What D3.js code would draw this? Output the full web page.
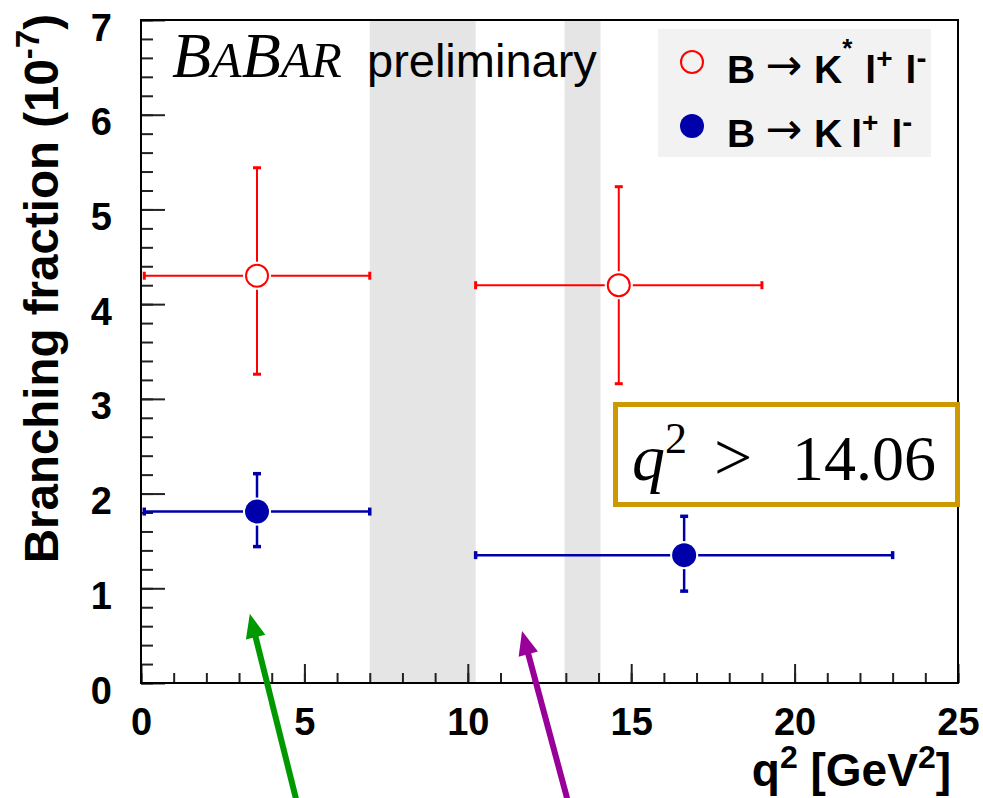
<!DOCTYPE html>
<html>
<head>
<meta charset="utf-8">
<script src="https://cdn.jsdelivr.net/npm/d3@7"></script>
<style>
  body { margin: 0; background: #fff; }
  svg { display: block; }
</style>
</head>
<body>
<script>
'use strict';

// q^2 bins and measured branching fractions (units of 1e-7)
const kstarX   = [3.55, 14.62];
const kstarXlo = [0.1, 10.24];
const kstarXhi = [7.0, 19.0];
const kstarY   = [4.30, 4.20];
const kstarYlo = [3.26, 3.16];
const kstarYhi = [5.44, 5.24];

const kX   = [3.55, 16.62];
const kXlo = [0.1, 10.24];
const kXhi = [7.0, 23.0];
const kY   = [1.81, 1.35];
const kYlo = [1.44, 0.97];
const kYhi = [2.21, 1.76];

// charmonium veto regions
const vetoBands = [[7.0, 10.24], [12.96, 14.06]];

const xTicks = [0, 5, 10, 15, 20, 25];
const yTicks = [0, 1, 2, 3, 4, 5, 6, 7];

// annotation arrows: [tail, tip] in data units
const arrows = [
    {from: [4.74, -1.22], to: [3.33, 0.73], color: '#009900'},
    {from: [13.04, -1.22], to: [11.66, 0.55], color: '#990099'}
];

const W = 983, H = 798;
const margin = {top: 20, right: 25, bottom: 115, left: 141};
const iw = W - margin.left - margin.right;
const ih = H - margin.top - margin.bottom;

const sans = "'Liberation Sans', Arial, Helvetica, sans-serif";
const serif = "'Liberation Serif', 'Times New Roman', serif";

const svg = d3.select('body').append('svg')
    .attr('width', W)
    .attr('height', H);

const x = d3.scaleLinear().domain([0, 25]).range([0, iw]);
const y = d3.scaleLinear().domain([0, 7]).range([ih, 0]);

const g = svg.append('g')
    .attr('transform', `translate(${margin.left},${margin.top})`);

// veto bands
g.selectAll('rect.veto')
    .data(vetoBands)
    .enter().append('rect')
        .attr('class', 'veto')
        .attr('x', d => x(d[0]))
        .attr('width', d => x(d[1]) - x(d[0]))
        .attr('y', 0)
        .attr('height', ih)
        .style('fill', '#e5e5e5');

// minor ticks
const xMinor = g.append('g')
    .attr('transform', `translate(0,${ih})`)
    .call(d3.axisBottom(x).tickValues(d3.range(0, 26, 1)).tickSize(-10).tickFormat(''));
const yMinor = g.append('g')
    .call(d3.axisLeft(y).tickValues(d3.range(0, 7.01, 0.2)).tickSize(-12).tickFormat(''));

// major ticks + labels
const xAxis = g.append('g')
    .attr('transform', `translate(0,${ih})`)
    .call(d3.axisBottom(x).tickValues(xTicks).tickSize(-19).tickFormat(d3.format('d')));
const yAxis = g.append('g')
    .call(d3.axisLeft(y).tickValues(yTicks).tickSize(-24).tickPadding(29).tickFormat(d3.format('d')));

[xMinor, yMinor, xAxis, yAxis].forEach(a => {
    a.select('.domain').remove();
    a.selectAll('line').style('stroke', '#222').style('stroke-width', 2);
});
xAxis.selectAll('text')
    .attr('y', 52).attr('dy', 0)
    .style('font-family', sans).style('font-weight', 'bold').style('font-size', '38px').style('fill', '#000');
yAxis.selectAll('text')
    .attr('dy', 20)
    .style('font-family', sans).style('font-weight', 'bold').style('font-size', '38px').style('fill', '#000');

// frame
g.append('rect')
    .attr('width', iw).attr('height', ih)
    .style('fill', 'none').style('stroke', '#000').style('stroke-width', 2);

// error bars + markers
function drawSeries(xs, xlo, xhi, ys, ylo, yhi, color, filled, width) {
    const data = xs.map((v, i) => ({x: v, xlo: xlo[i], xhi: xhi[i], y: ys[i], ylo: ylo[i], yhi: yhi[i]}));
    const gap = 14, cap = 4;
    const s = g.append('g');
    const pts = s.selectAll('g').data(data).enter().append('g');
    const seg = (sel, f) => sel.append('line')
        .each(function(d) { const c = f(d); d3.select(this).attr('x1', c[0]).attr('y1', c[1]).attr('x2', c[2]).attr('y2', c[3]); })
        .style('stroke', color).style('stroke-width', width);
    seg(pts, d => [x(d.xlo), y(d.y), x(d.x) - gap, y(d.y)]);
    seg(pts, d => [x(d.x) + gap, y(d.y), x(d.xhi), y(d.y)]);
    seg(pts, d => [x(d.x), y(d.yhi), x(d.x), y(d.y) - gap]);
    seg(pts, d => [x(d.x), y(d.y) + gap, x(d.x), y(d.ylo)]);
    // caps
    const capW = width + 1;
    seg(pts, d => [x(d.xlo), y(d.y) - cap, x(d.xlo), y(d.y) + cap]).style('stroke-width', capW);
    seg(pts, d => [x(d.xhi), y(d.y) - cap, x(d.xhi), y(d.y) + cap]).style('stroke-width', capW);
    seg(pts, d => [x(d.x) - cap, y(d.yhi), x(d.x) + cap, y(d.yhi)]).style('stroke-width', capW);
    seg(pts, d => [x(d.x) - cap, y(d.ylo), x(d.x) + cap, y(d.ylo)]).style('stroke-width', capW);
    pts.append('circle')
        .attr('cx', d => x(d.x)).attr('cy', d => y(d.y))
        .attr('r', filled ? 12 : 11)
        .style('fill', filled ? color : 'none')
        .style('stroke', color).style('stroke-width', filled ? 0 : 2);
}
drawSeries(kstarX, kstarXlo, kstarXhi, kstarY, kstarYlo, kstarYhi, '#ff0000', false, 2);
drawSeries(kX, kXlo, kXhi, kY, kYlo, kYhi, '#0000aa', true, 2.5);

// BABAR preliminary
const babar = svg.append('text')
    .attr('x', 172).attr('y', 77)
    .style('font-family', serif).style('font-style', 'italic').style('fill', '#000');
[['B', 64], ['A', 50], ['B', 64], ['AR', 50]].forEach(p => {
    babar.append('tspan').text(p[0]).style('font-size', p[1] + 'px');
});
svg.append('text')
    .attr('x', 367).attr('y', 77)
    .style('font-family', sans).style('font-size', '47px').style('fill', '#000')
    .text('preliminary');

// legend
const leg = svg.append('g');
leg.append('rect')
    .attr('x', 658).attr('y', 29).attr('width', 273).attr('height', 128)
    .style('fill', '#f2f2f2');
leg.append('circle').attr('cx', 692).attr('cy', 62).attr('r', 11)
    .style('fill', 'none').style('stroke', '#ff0000').style('stroke-width', 2);
leg.append('circle').attr('cx', 692).attr('cy', 126).attr('r', 12)
    .style('fill', '#0000aa');

function legendText(yb, star) {
    const t = leg.append('text')
        .attr('x', 727).attr('y', yb)
        .style('font-family', sans).style('font-weight', 'bold').style('font-size', '39px').style('fill', '#000');
    t.append('tspan').text('B');
    t.append('tspan').text('\u2192').attr('dx', 10).attr('dy', -3)
        .style('font-weight', 'normal').style('font-family', "'DejaVu Sans', sans-serif").style('font-size', '44px');
    t.append('tspan').text('K').attr('dx', 12).attr('dy', 3);
    if (star) {
        t.append('tspan').text('*').attr('dy', -26).style('font-size', '26px');
        t.append('tspan').text('l').attr('dx', 13).attr('dy', 26);
    } else {
        t.append('tspan').text('l').attr('dx', 9);
    }
    t.append('tspan').text('+').attr('dy', -15).style('font-size', '28px');
    t.append('tspan').text('l').attr('dx', 13).attr('dy', 15);
    t.append('tspan').text('-').attr('dy', -15).style('font-size', '30px');
}
legendText(83, true);
legendText(147, false);

// axis titles
const yt = svg.append('text')
    .attr('transform', 'translate(58,14) rotate(-90)')
    .attr('text-anchor', 'end')
    .style('font-family', sans).style('font-weight', 'bold').style('font-size', '47.5px').style('fill', '#000');
yt.append('tspan').text('Branching fraction (10');
yt.append('tspan').text('-7').attr('dy', -19).style('font-size', '33px');
yt.append('tspan').text(')').attr('dy', 19);

const xt = svg.append('text')
    .attr('x', 951).attr('y', 786)
    .attr('text-anchor', 'end')
    .style('font-family', sans).style('font-weight', 'bold').style('font-size', '46px').style('fill', '#000');
xt.append('tspan').text('q');
xt.append('tspan').text('2').attr('dy', -18).style('font-size', '32px');
xt.append('tspan').text(' [GeV').attr('dy', 18);
xt.append('tspan').text('2').attr('dy', -18).style('font-size', '32px');
xt.append('tspan').text(']').attr('dy', 18);

// q^2 > 14.06 box
svg.append('rect')
    .attr('x', 615.5).attr('y', 404.5).attr('width', 342).attr('height', 100)
    .style('fill', '#fff').style('stroke', '#cc9900').style('stroke-width', 5);
const cut = svg.append('g').style('font-family', serif).style('fill', '#000');
cut.append('text').attr('x', 632).attr('y', 480).style('font-size', '66px').style('font-style', 'italic').text('q');
cut.append('text').attr('x', 665).attr('y', 453).style('font-size', '44px').text('2');
cut.append('text').attr('x', 714).attr('y', 480).style('font-size', '68px').text('>');
cut.append('text').attr('x', 792).attr('y', 480).style('font-size', '64px').text('14.06');

// arrows
arrows.forEach(a => {
    const x0 = margin.left + x(a.from[0]), y0 = margin.top + y(a.from[1]);
    const x1 = margin.left + x(a.to[0]), y1 = margin.top + y(a.to[1]);
    const len = Math.hypot(x1 - x0, y1 - y0);
    const ux = (x1 - x0) / len, uy = (y1 - y0) / len;
    const hl = 24, hw = 10;
    const bx = x1 - ux * hl, by = y1 - uy * hl;
    svg.append('line')
        .attr('x1', x0).attr('y1', y0).attr('x2', bx + ux * 2).attr('y2', by + uy * 2)
        .style('stroke', a.color).style('stroke-width', 6);
    svg.append('polygon')
        .attr('points', [[x1, y1], [bx - uy * hw, by + ux * hw], [bx + uy * hw, by - ux * hw]].map(p => p.join(',')).join(' '))
        .style('fill', a.color);
});
</script>
</body>
</html>
